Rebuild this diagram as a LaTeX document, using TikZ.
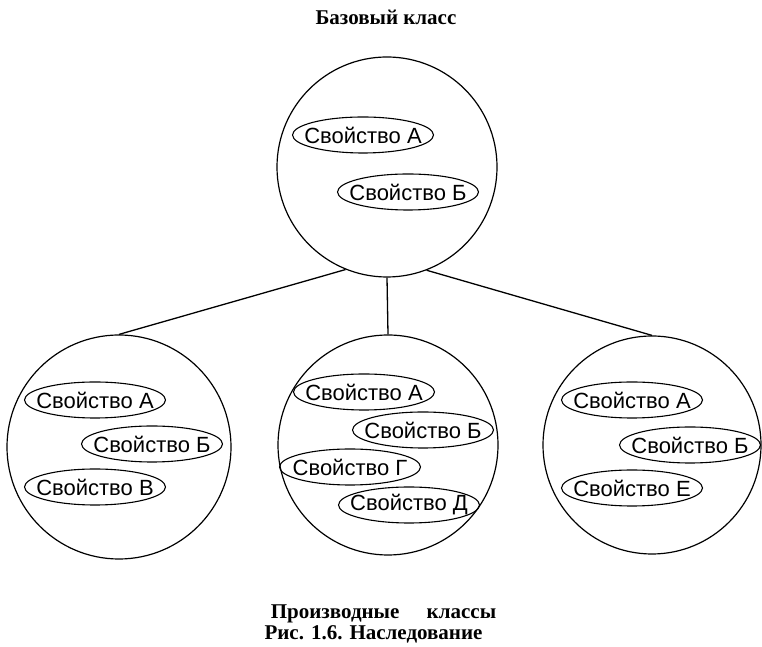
\documentclass[tikz,border=0pt]{standalone}
\usepackage{fontspec}
\setmainfont{Liberation Serif}
\newfontfamily\propfont{Liberation Sans}
\usetikzlibrary{shapes.geometric}
\begin{document}
\begin{tikzpicture}[x=1bp,y=1bp,
  cls/.style={circle,draw,line width=1.2bp,inner sep=0pt},
  prop/.style={ellipse,draw,line width=1.1bp,inner xsep=-30bp,inner ysep=-12bp,
    minimum width=141bp,minimum height=36bp,font=\propfont\fontsize{22bp}{24bp}\selectfont},
  link/.style={line width=1.3bp},
  capt/.style={anchor=base,inner sep=0pt,font=\bfseries\fontsize{21bp}{23bp}\selectfont}]
\useasboundingbox (0,0) rectangle (762,647);
% classes
\node[cls,minimum size=220bp] (base) at (387,480) {};
\node[cls,minimum size=224bp] (lft) at (119,200) {};
\node[cls,minimum size=220bp] (mid) at (388,202) {};
\node[cls,minimum size=218bp] (rgt) at (652,202) {};
% properties
\node[prop] (bA) at (363,512) {Свойство А};
\node[prop] (bB) at (408,455) {Свойство Б};
\node[prop] (lA) at (95,247) {Свойство А};
\node[prop] (lB) at (152,203) {Свойство Б};
\node[prop] (lV) at (95,160) {Свойство В};
\node[prop] (mA) at (364,255) {Свойство А};
\node[prop] (mB) at (423,217) {Свойство Б};
\node[prop] (mG) at (350,180) {Свойство Г};
\node[prop] (mD) at (409,142) {Свойство Д};
\node[prop] (rA) at (632,247) {Свойство А};
\node[prop] (rB) at (690,202) {Свойство Б};
\node[prop] (rE) at (632,159) {Свойство Е};
% links
\draw[link] (base.248.8) -- (lft.north);
\draw[link] (base.south) -- (mid.north);
\draw[link] (base.291) -- (rgt.north);
% captions
\node[capt] (title) at (386,622) {Базовый класс};
\node[capt] (derived) at (383.5,28) {Производные\hspace{1.3em}классы};
\node[capt] (fig) at (373.5,7) {Рис. 1.6. Наследование};
\end{tikzpicture}
\end{document}
